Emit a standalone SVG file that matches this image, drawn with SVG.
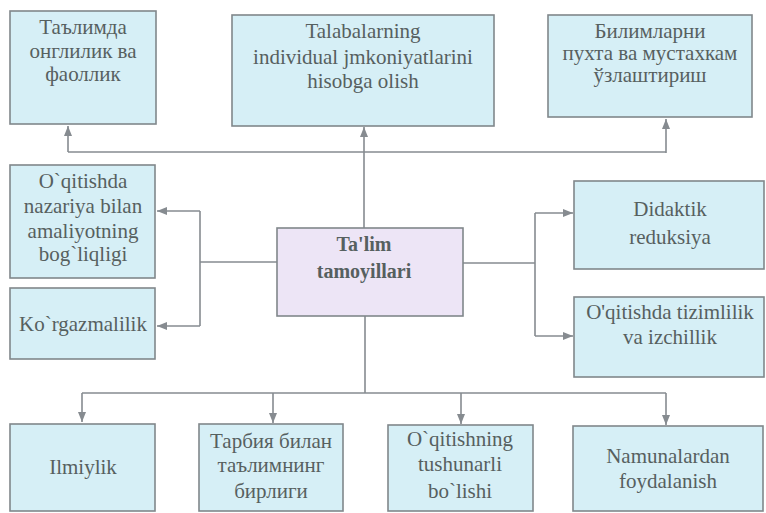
<svg xmlns="http://www.w3.org/2000/svg" width="766" height="513" viewBox="0 0 766 513" font-family="Liberation Serif, DejaVu Serif, serif">
<defs>
<style>
.box{fill:#d6eff6;stroke:#80878b;stroke-width:1.6}
.center{fill:#ede5f6;stroke:#80878b;stroke-width:1.6}
.t{font-size:21px;fill:#56605f;text-anchor:middle}
.tb{font-size:20px;font-weight:bold;fill:#56605f;text-anchor:middle}
.c{fill:none;stroke:#868b90;stroke-width:1.6}
</style>
<marker id="ah" markerUnits="userSpaceOnUse" markerWidth="11" markerHeight="8" refX="10" refY="4" orient="auto">
<path d="M0,0 L10,4 L0,8 z" fill="#868b90"/>
</marker>
</defs>
<rect width="766" height="513" fill="#ffffff"/>
<g id="connectors">
<path class="c" d="M68,152 H666"/>
<path class="c" d="M68,152 V126" marker-end="url(#ah)"/>
<path class="c" d="M666,153 V119" marker-end="url(#ah)"/>
<path class="c" d="M364,228 V152"/>
<path class="c" d="M364,152 V127" marker-end="url(#ah)"/>
<path class="c" d="M277,262 H200"/>
<path class="c" d="M200,211 V326"/>
<path class="c" d="M200,211 H157" marker-end="url(#ah)"/>
<path class="c" d="M200,326 H157" marker-end="url(#ah)"/>
<path class="c" d="M463,263 H535"/>
<path class="c" d="M535,213 V336"/>
<path class="c" d="M535,213 H573" marker-end="url(#ah)"/>
<path class="c" d="M535,336 H573" marker-end="url(#ah)"/>
<path class="c" d="M365,316 V393"/>
<path class="c" d="M82,393 H666"/>
<path class="c" d="M82,393 V422" marker-end="url(#ah)"/>
<path class="c" d="M273,393 V423" marker-end="url(#ah)"/>
<path class="c" d="M461,393 V424" marker-end="url(#ah)"/>
<path class="c" d="M666,393 V425" marker-end="url(#ah)"/>
</g>
<g id="n1">
<rect class="box" x="10" y="11" width="146" height="113"/>
<text class="t" x="83" y="34">Таълимда</text>
<text class="t" x="83" y="58">онглилик ва</text>
<text class="t" x="83" y="81">фаоллик</text>
</g>
<g id="n2">
<rect class="box" x="232" y="15" width="262" height="111"/>
<text class="t" x="363" y="38">Talabalarning</text>
<text class="t" x="363" y="64">individual jmkoniyatlarini</text>
<text class="t" x="363" y="88">hisobga olish</text>
</g>
<g id="n3">
<rect class="box" x="548" y="15" width="204" height="102"/>
<text class="t" x="650" y="38">Билимларни</text>
<text class="t" x="650" y="60">пухта ва мустахкам</text>
<text class="t" x="650" y="82">ўзлаштириш</text>
</g>
<g id="n4">
<rect class="box" x="10" y="165" width="145" height="113"/>
<text class="t" x="83" y="188">O`qitishda</text>
<text class="t" x="83" y="213">nazariya bilan</text>
<text class="t" x="83" y="238">amaliyotning</text>
<text class="t" x="83" y="261">bog`liqligi</text>
</g>
<g id="n5">
<rect class="box" x="10" y="288" width="145" height="71"/>
<text class="t" x="83" y="331">Ko`rgazmalilik</text>
</g>
<g id="center">
<rect class="center" x="277" y="228" width="186" height="88"/>
<text class="tb" x="364" y="251">Ta'lim</text>
<text class="tb" x="364" y="278">tamoyillari</text>
</g>
<g id="n6">
<rect class="box" x="574" y="181" width="190" height="88"/>
<text class="t" x="670" y="216">Didaktik</text>
<text class="t" x="670" y="244">reduksiya</text>
</g>
<g id="n7">
<rect class="box" x="574" y="297" width="190" height="80"/>
<text class="t" x="670" y="319">O'qitishda tizimlilik</text>
<text class="t" x="670" y="344">va izchillik</text>
</g>
<g id="n8">
<rect class="box" x="10" y="424" width="145" height="87"/>
<text class="t" x="83" y="474">Ilmiylik</text>
</g>
<g id="n9">
<rect class="box" x="199" y="424" width="144" height="87"/>
<text class="t" x="271" y="448">Тарбия билан</text>
<text class="t" x="271" y="472">таълимнинг</text>
<text class="t" x="271" y="498">бирлиги</text>
</g>
<g id="n10">
<rect class="box" x="388" y="425" width="145" height="86"/>
<text class="t" x="460" y="446">O`qitishning</text>
<text class="t" x="460" y="471">tushunarli</text>
<text class="t" x="460" y="498">bo`lishi</text>
</g>
<g id="n11">
<rect class="box" x="573" y="426" width="190" height="85"/>
<text class="t" x="668" y="463">Namunalardan</text>
<text class="t" x="668" y="488">foydalanish</text>
</g>
</svg>
